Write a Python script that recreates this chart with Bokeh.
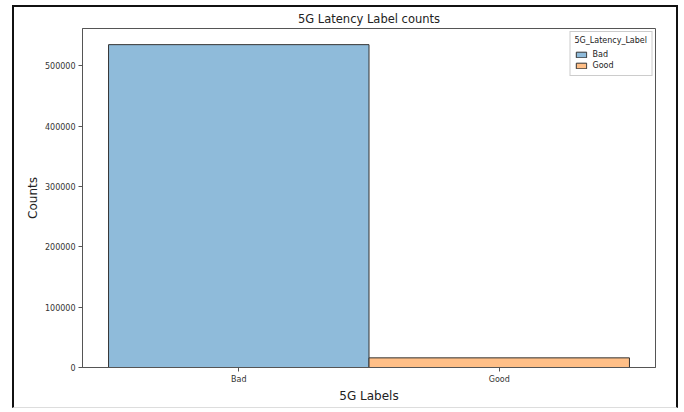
from bokeh.plotting import figure
from bokeh.models import FactorRange, Range1d, ColumnDataSource, SingleIntervalTicker, BasicTickFormatter, Legend, LegendItem
from bokeh.embed import file_html
from bokeh.resources import INLINE

# Data
categories = ["Bad", "Good"]
counts = [535000, 16000]
colors = ["#8fbbda", "#ffbf87"]
title_text = "5G Latency Label counts"
x_label = "5G Labels"
y_label = "Counts"
legend_title = "5G_Latency_Label"

FONT = "DejaVu Sans"

source = ColumnDataSource(dict(x=categories, top=counts, color=colors, label=categories))

W, H = 666, 403
p = figure(
    width=W, height=H,
    x_range=FactorRange(factors=categories, range_padding=0.1),
    y_range=Range1d(0, max(counts) * 1.05),
    output_backend="svg", toolbar_location=None,
    min_border_left=68, min_border_right=25, min_border_top=21, min_border_bottom=43,
)
# screenshot-like frame around the figure
p.styles = {"margin-left": "12px", "margin-top": "5px",
            "border-left": "2px solid #111", "border-top": "2px solid #111",
            "border-right": "2px solid #111", "border-bottom": "1px solid #dddddd"}

r = p.vbar(x="x", top="top", width=1.0, source=source, fill_color="color",
           line_color="#333333", line_width=1)

p.title.text = title_text
p.title.align = "center"
p.title.text_font = FONT
p.title.text_font_size = "11.5px"
p.title.text_font_style = "normal"
p.title.text_color = "#222222"
p.title.offset = 0
p.title.standoff = 5

p.xgrid.visible = False
p.ygrid.visible = False
p.outline_line_color = "#555555"
p.outline_line_width = 1

p.yaxis.ticker = SingleIntervalTicker(interval=100000, num_minor_ticks=0)
p.yaxis.formatter = BasicTickFormatter(use_scientific=False)

for ax in (p.xaxis[0], p.yaxis[0]):
    ax.axis_line_color = "#555555"
    ax.major_tick_line_color = "#555555"
    ax.major_tick_out = 4
    ax.major_tick_in = 0
    ax.minor_tick_line_color = None
    ax.major_label_text_font = FONT
    ax.major_label_text_font_size = "8px"
    ax.major_label_text_color = "#333333"
    ax.axis_label_text_font = FONT
    ax.axis_label_text_font_size = "12px"
    ax.axis_label_text_font_style = "normal"
    ax.axis_label_text_color = "#222222"
    ax.major_label_standoff = 3

p.xaxis.axis_label = x_label
p.yaxis.axis_label = y_label
p.xaxis.axis_label_standoff = 2
p.yaxis.axis_label_standoff = 2

legend = Legend(items=[LegendItem(label=categories[i], renderers=[r], index=i) for i in range(len(categories))],
                location="top_right")
legend.title = legend_title
legend.title_text_font = FONT
legend.title_text_font_size = "8px"
legend.title_text_font_style = "normal"
legend.title_text_color = "#222222"
legend.label_text_font = FONT
legend.label_text_font_size = "8px"
legend.label_text_color = "#222222"
legend.label_height = 11
legend.glyph_height = 7
legend.glyph_width = 13
legend.spacing = 0
legend.padding = 4
legend.margin = 3
legend.border_line_color = "#cccccc"
legend.border_line_alpha = 1
legend.background_fill_alpha = 0.8
legend.title_standoff = 4
p.add_layout(legend)

open("out.html", "w").write(file_html(p, INLINE))
